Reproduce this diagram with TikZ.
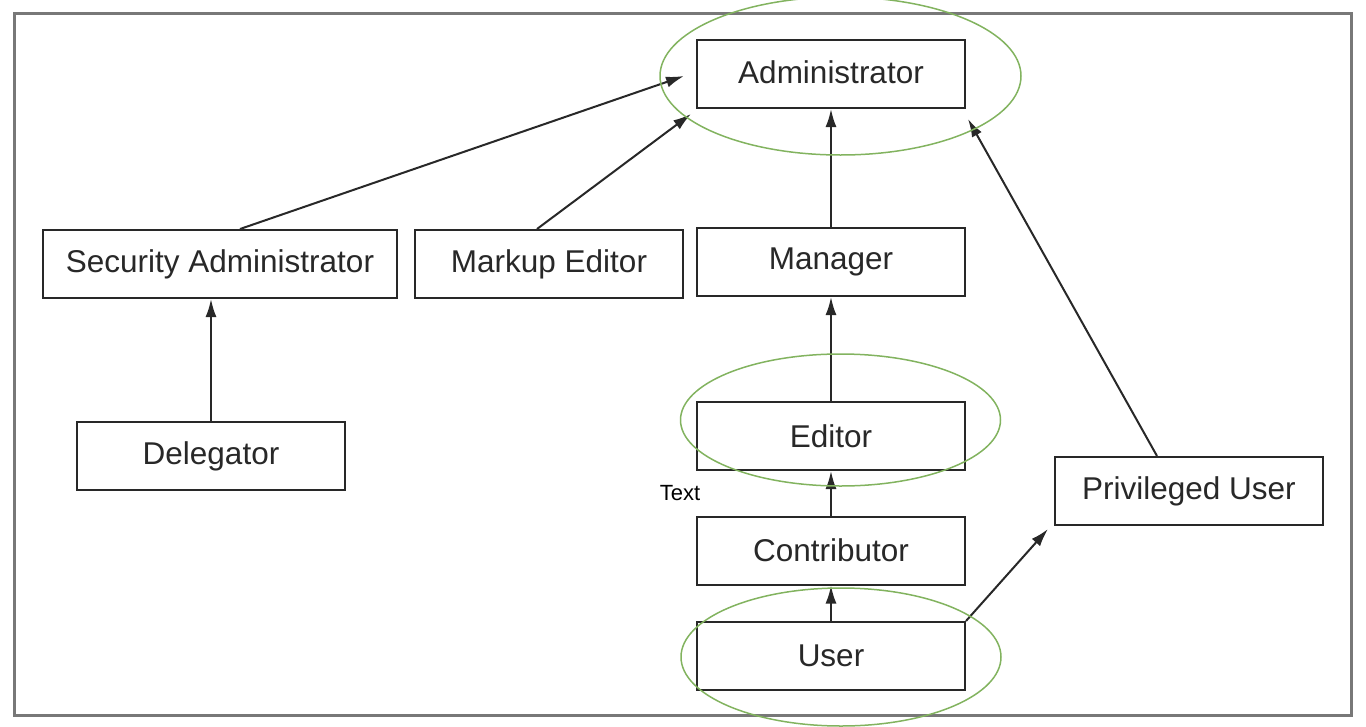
\documentclass[tikz,border=0pt]{standalone}
\usepackage{fontspec}
\setmainfont{Liberation Sans}
\usetikzlibrary{arrows.meta}
\definecolor{grn}{RGB}{130,179,95}
\definecolor{frm}{RGB}{120,120,120}
\definecolor{ink}{RGB}{40,40,40}
\begin{document}
\begin{tikzpicture}[x=1pt,y=-1pt,
  role/.style={draw=ink,line width=2pt,fill=white,minimum width=268pt,minimum height=68pt,inner sep=0pt,
    font=\fontsize{31.5}{36}\selectfont,text=ink},
  arr/.style={-{Latex[length=18pt,width=11pt]},line width=2pt,draw=ink},
  grp/.style={draw=grn,line width=1.5pt}]
\useasboundingbox (0,0) rectangle (1366,726);
\clip (0,0) rectangle (1366,726);
\draw[frm,line width=3pt] (14,13) rectangle (1351,715);

\node[role] (admin) at (831,74) {\raisebox{3pt}{Administrator}};
\node[role,minimum width=354pt] (sec) at (220,264) {\raisebox{2pt}{Security Administrator}};
\node[role] (markup) at (549,264) {\raisebox{2pt}{Markup Editor}};
\node[role] (manager) at (831,262) {Manager};
\node[role] (deleg) at (211,456) {Delegator};
\node[role] (editor) at (831,436) {Editor};
\node[role] (contrib) at (831,550.5) {Contributor};
\node[role] (user) at (831,656) {User};
\node[role] (priv) at (1189,491) {Privileged User};
\node[font=\fontsize{22}{26}\selectfont,inner sep=0pt] (lbl) at (680,493) {Text};

\draw[arr] ([xshift=20pt]sec.north) -- ([xshift=-12pt,yshift=-2pt]admin.west);
\draw[arr] ([xshift=-12pt]markup.north) -- ([xshift=-5pt,yshift=-5pt]admin.south west);
\draw[arr] (manager.north) -- (admin.south);
\draw[arr] (deleg.north) -- (deleg.north |- sec.south);
\draw[arr] (editor.north) -- (manager.south);
\draw[arr] (contrib.north) -- (editor.south);
\draw[arr] (user.north) -- (contrib.south);
\draw[arr] (user.north east) -- ([xshift=-6pt,yshift=-3pt]priv.south west);
\draw[arr] ([xshift=-32pt]priv.north) -- ([xshift=2pt,yshift=-10pt]admin.south east);

\draw[grp] (840.5,76) ellipse [x radius=180.5, y radius=79];
\draw[grp] (840.5,420) ellipse [x radius=160, y radius=66];
\draw[grp] (841,657) ellipse [x radius=160, y radius=69];
\end{tikzpicture}
\end{document}
